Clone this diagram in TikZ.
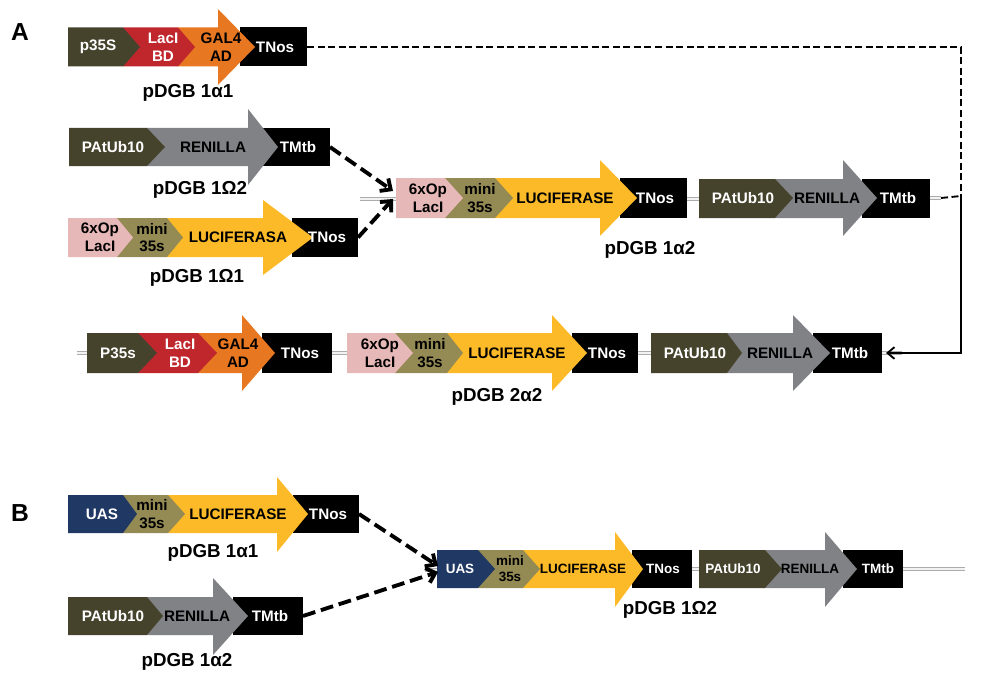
\documentclass[tikz,border=0pt]{standalone}
\usepackage{fontspec}
\setmainfont{Liberation Sans}
\usetikzlibrary{arrows.meta}

\definecolor{promdark}{RGB}{70,67,45}
\definecolor{lacired}{RGB}{192,39,45}
\definecolor{galorange}{RGB}{232,119,34}
\definecolor{rengray}{RGB}{128,130,134}
\definecolor{oppink}{RGB}{230,184,183}
\definecolor{minikhaki}{RGB}{148,138,84}
\definecolor{lucyellow}{RGB}{252,186,40}
\definecolor{uasblue}{RGB}{31,56,100}

\tikzset{
  txt/.style={font=\bfseries\fontsize{13}{15}\selectfont, align=center, inner sep=0pt},
  wtxt/.style={txt, text=white},
  stxt/.style={font=\bfseries\fontsize{11.5}{13.5}\selectfont, align=center, inner sep=0pt},
  swtxt/.style={stxt, text=white},
  title/.style={font=\bfseries\fontsize{16}{19}\selectfont, inner sep=0pt},
  panel/.style={font=\bfseries\fontsize{21}{24}\selectfont, inner sep=0pt},
  backbone/.style={draw=gray!65, double=gray!10, double distance=1.4pt, line width=0.8pt},
  link/.style={line width=3.3pt, dash pattern=on 11pt off 5pt, -{Straight Barb[length=7pt,width=13pt]}},
  thinlink/.style={line width=1.6pt, dash pattern=on 6pt off 3pt},
  back/.style={line width=1.6pt, -{Straight Barb[length=6pt,width=10pt]}},
}

\begin{document}
\begin{tikzpicture}[x=0.03cm, y=-0.03cm]
    \useasboundingbox (0,0) rectangle (997,674);

    % ---------------- A ----------------
    \node[panel] (lblA) at (20,32) {A};

    % pDGB 1a1: p35S - LacI BD - GAL4 AD - TNos
    \fill[black] (240,27.5) rectangle (307,66.5);
    \fill[galorange] (178,27.5) -- (218,27.5) -- (218,9) -- (255,47) -- (218,85) -- (218,66.5) -- (178,66.5) -- cycle;
    \fill[lacired] (123,27.5) -- (178,27.5) -- (195,47) -- (178,66.5) -- (123,66.5) -- cycle;
    \fill[promdark] (68,27.5) -- (123,27.5) -- (140,47) -- (123,66.5) -- (68,66.5) -- cycle;
    \node[wtxt] (p35s1) at (98,47) {p35S};
    \node[wtxt] (laci1) at (163,47) {LacI\\BD};
    \node[txt] (gal1) at (221,47) {GAL4\\AD};
    \node[wtxt] (tnos1) at (275,47) {TNos};
    \node[title] (a1) at (188,93) {pDGB 1α1};
    \coordinate (end1) at (307,47);

    % pDGB 1O2: PAtUb10 - RENILLA - TMtb
    \fill[black] (263,128) rectangle (330,166);
    \fill[rengray] (147,128) -- (248,128) -- (248,109) -- (278,147) -- (248,185) -- (248,166) -- (147,166) -- cycle;
    \fill[promdark] (69,128) -- (147,128) -- (165,147) -- (147,166) -- (69,166) -- cycle;
    \node[wtxt] (pat2) at (113,147) {PAtUb10};
    \node[txt] (ren2) at (213,147) {RENILLA};
    \node[wtxt] (tmtb2) at (298,147) {TMtb};
    \node[title] (o2) at (200,190) {pDGB 1Ω2};
    \coordinate (end2) at (330,147);

    % pDGB 1O1: 6xOp LacI - mini 35s - LUCIFERASA - TNos
    \fill[black] (292,218) rectangle (358,257);
    \fill[lucyellow] (167,218) -- (263,218) -- (263,200) -- (313,237.5) -- (263,275) -- (263,257) -- (167,257) -- cycle;
    \fill[minikhaki] (117,218) -- (167,218) -- (183,237.5) -- (167,257) -- (117,257) -- cycle;
    \fill[oppink] (68,218) -- (117,218) -- (133,237.5) -- (117,257) -- (68,257) -- cycle;
    \node[txt] (op3) at (100,237.5) {6xOp\\LacI};
    \node[txt] (mini3) at (152,237.5) {mini\\35s};
    \node[txt] (luc3) at (238,237.5) {LUCIFERASA};
    \node[wtxt] (tnos3) at (327,237.5) {TNos};
    \node[title] (o1) at (197,278) {pDGB 1Ω1};
    \coordinate (end3) at (358,237.5);

    % pDGB 1a2: the two transcriptional units together
    \draw[backbone] (360,199) -- (396,199);
    \draw[backbone] (687,199) -- (699,199);
    \draw[backbone] (930,198) -- (941,198);
    \fill[black] (620,178) rectangle (687,218);
    \fill[lucyellow] (495,178) -- (600,178) -- (600,160) -- (637,198) -- (600,236) -- (600,218) -- (495,218) -- cycle;
    \fill[minikhaki] (445,178) -- (495,178) -- (513,198) -- (495,218) -- (445,218) -- cycle;
    \fill[oppink] (396,178) -- (445,178) -- (463,198) -- (445,218) -- (396,218) -- cycle;
    \fill[black] (862,179) rectangle (930,218);
    \fill[rengray] (775,179) -- (843,179) -- (843,160) -- (877,198) -- (843,236) -- (843,218) -- (775,218) -- cycle;
    \fill[promdark] (699,179) -- (775,179) -- (793,198) -- (775,218) -- (699,218) -- cycle;
    \node[txt] (op4) at (428,198) {6xOp\\LacI};
    \node[txt] (mini4) at (480,198) {mini\\35s};
    \node[txt] (luc4) at (565,198) {LUCIFERASE};
    \node[wtxt] (tnos4) at (655,198) {TNos};
    \node[wtxt] (pat4) at (743,198) {PAtUb10};
    \node[txt] (ren4) at (827,198) {RENILLA};
    \node[wtxt] (tmtb4) at (898,198) {TMtb};
    \node[title] (a2) at (650,250) {pDGB 1α2};
    \coordinate (in4a) at (393,191);
    \coordinate (in4b) at (393,199);
    \coordinate (end4) at (941,198);

    % pDGB 2a2: the three units
    \draw[backbone] (77,353) -- (87,353);
    \draw[backbone] (332,353) -- (347,353);
    \draw[backbone] (638,353) -- (651,353);
    \draw[backbone] (882,353) -- (902,353);
    \fill[black] (262,333) rectangle (332,373);
    \fill[galorange] (198,333) -- (242,333) -- (242,315) -- (275,353) -- (242,391) -- (242,373) -- (198,373) -- cycle;
    \fill[lacired] (138,333) -- (198,333) -- (217,353) -- (198,373) -- (138,373) -- cycle;
    \fill[promdark] (87,333) -- (138,333) -- (157,353) -- (138,373) -- (87,373) -- cycle;
    \fill[black] (572,333) rectangle (638,373);
    \fill[lucyellow] (447,333) -- (552,333) -- (552,315) -- (587,353) -- (552,391) -- (552,373) -- (447,373) -- cycle;
    \fill[minikhaki] (395,333) -- (447,333) -- (463,353) -- (447,373) -- (395,373) -- cycle;
    \fill[oppink] (347,333) -- (395,333) -- (413,353) -- (395,373) -- (347,373) -- cycle;
    \fill[black] (813,333) rectangle (882,373);
    \fill[rengray] (727,333) -- (793,333) -- (793,315) -- (830,353) -- (793,391) -- (793,373) -- (727,373) -- cycle;
    \fill[promdark] (651,333) -- (727,333) -- (742,353) -- (727,373) -- (651,373) -- cycle;
    \node[wtxt] (p35s5) at (118,353) {P35s};
    \node[wtxt] (laci5) at (180,353) {LacI\\BD};
    \node[txt] (gal5) at (238,353) {GAL4\\AD};
    \node[wtxt] (tnos5a) at (300,353) {TNos};
    \node[txt] (op5) at (380,353) {6xOp\\LacI};
    \node[txt] (mini5) at (430,353) {mini\\35s};
    \node[txt] (luc5) at (517,353) {LUCIFERASE};
    \node[wtxt] (tnos5b) at (607,353) {TNos};
    \node[wtxt] (pat5) at (695,353) {PAtUb10};
    \node[txt] (ren5) at (780,353) {RENILLA};
    \node[wtxt] (tmtb5) at (850,353) {TMtb};
    \node[title] (b2) at (497,397) {pDGB 2α2};
    \coordinate (in5) at (886,353);
    \coordinate (turn) at (961,196);

    % assembly steps
    \draw[link] (end2) -- (in4a);
    \draw[link] (end3) -- (in4b);
    \draw[thinlink] (end1) -| (turn);
    \draw[thinlink] (end4) -- (turn);
    \draw[back] (turn) |- (in5);

    % ---------------- B ----------------
    \node[panel] (lblB) at (20,513) {B};

    % pDGB 1a1: UAS - mini 35s - LUCIFERASE - TNos
    \fill[black] (293,495) rectangle (359,533);
    \fill[lucyellow] (168,495) -- (277,495) -- (277,477) -- (308,514) -- (277,552) -- (277,533) -- (168,533) -- cycle;
    \fill[minikhaki] (123,495) -- (168,495) -- (185,514) -- (168,533) -- (123,533) -- cycle;
    \fill[uasblue] (68,495) -- (123,495) -- (137,514) -- (123,533) -- (68,533) -- cycle;
    \node[wtxt] (uas6) at (102,514) {UAS};
    \node[txt] (mini6) at (152,514) {mini\\35s};
    \node[txt] (luc6) at (238,514) {LUCIFERASE};
    \node[wtxt] (tnos6) at (328,514) {TNos};
    \node[title] (a1b) at (213,553) {pDGB 1α1};
    \coordinate (end6) at (359,514);

    % pDGB 1a2: PAtUb10 - RENILLA - TMtb
    \fill[black] (233,597) rectangle (303,635);
    \fill[rengray] (147,597) -- (213,597) -- (213,578) -- (248,616) -- (213,655) -- (213,635) -- (147,635) -- cycle;
    \fill[promdark] (68,597) -- (147,597) -- (163,616) -- (147,635) -- (68,635) -- cycle;
    \node[wtxt] (pat7) at (113,616) {PAtUb10};
    \node[txt] (ren7) at (197,616) {RENILLA};
    \node[wtxt] (tmtb7) at (270,616) {TMtb};
    \node[title] (a2b) at (187,662) {pDGB 1α2};
    \coordinate (end7) at (303,616);

    % pDGB 1O2: both units
    \draw[backbone] (425,570) -- (437,570);
    \draw[backbone] (692,569) -- (699,569);
    \draw[backbone] (903,569) -- (965,569);
    \fill[black] (632,550) rectangle (692,588);
    \fill[lucyellow] (523,550) -- (615,550) -- (615,532) -- (643,569) -- (615,607) -- (615,588) -- (523,588) -- cycle;
    \fill[minikhaki] (478,550) -- (523,550) -- (540,569) -- (523,588) -- (478,588) -- cycle;
    \fill[uasblue] (437,550) -- (478,550) -- (495,569) -- (478,588) -- (437,588) -- cycle;
    \fill[black] (843,550) rectangle (903,588);
    \fill[rengray] (765,550) -- (825,550) -- (825,532) -- (857,569) -- (825,607) -- (825,588) -- (765,588) -- cycle;
    \fill[promdark] (699,550) -- (765,550) -- (782,569) -- (765,588) -- (699,588) -- cycle;
    \node[swtxt] (uas8) at (460,569) {UAS};
    \node[stxt] (mini8) at (510,569) {mini\\35s};
    \node[stxt] (luc8) at (583,569) {LUCIFERASE};
    \node[swtxt] (tnos8) at (663,569) {TNos};
    \node[swtxt] (pat8) at (733,569) {PAtUb10};
    \node[stxt] (ren8) at (810,569) {RENILLA};
    \node[swtxt] (tmtb8) at (878,569) {TMtb};
    \node[title] (o2b) at (670,610) {pDGB 1Ω2};
    \coordinate (in8a) at (438,566);
    \coordinate (in8b) at (438,572);

    \draw[link] (end6) -- (in8a);
    \draw[link] (end7) -- (in8b);
\end{tikzpicture}
\end{document}
